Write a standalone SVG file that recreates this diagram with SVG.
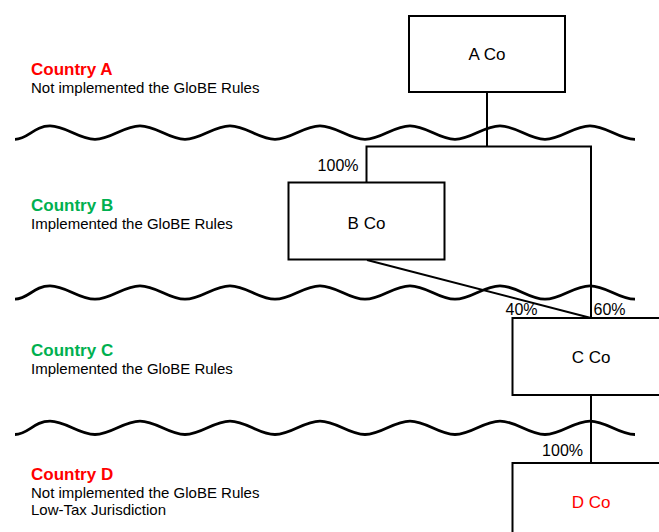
<svg xmlns="http://www.w3.org/2000/svg" width="659" height="532" viewBox="0 0 659 532">
<style>
text{font-family:"Liberation Sans",Arial,sans-serif;fill:#000}
.hd{font-size:17px;font-weight:bold}
.red{fill:#FF0000}
.grn{fill:#00B050}
.sub{font-size:15px}
.box{fill:#fff;stroke:#000;stroke-width:2}
.lbl{font-size:17px;text-anchor:middle}
.pct{font-size:16px}
.wave{fill:none;stroke:#000;stroke-width:2.8}
.con{fill:none;stroke:#000;stroke-width:2}
</style>
<defs>
<path id="wv" d="M15,6.7 C28,6.7 34,-6.7 50,-6.7 s28.6,13.4 45,13.4 s28.6,-13.4 45,-13.4 s28.6,13.4 45,13.4 s28.6,-13.4 45,-13.4 s28.6,13.4 45,13.4 s28.6,-13.4 45,-13.4 s28.6,13.4 45,13.4 s28.6,-13.4 45,-13.4 s28.6,13.4 45,13.4 s28.6,-13.4 45,-13.4 s28.6,13.4 45,13.4 s28.6,-13.4 45,-13.4 s28.6,13.4 45,13.4"/>
</defs>
<g id="borders">
<use href="#wv" class="wave" transform="translate(0,132.6)"/>
<use href="#wv" class="wave" transform="translate(0,292.5)"/>
<use href="#wv" class="wave" transform="translate(0,427.8)"/>
</g>
<g id="country-labels">
<text x="31" y="75" class="hd red">Country A</text>
<text x="31" y="92.5" class="sub">Not implemented the GloBE Rules</text>
<text x="31" y="211" class="hd grn">Country B</text>
<text x="31" y="228.5" class="sub">Implemented the GloBE Rules</text>
<text x="31" y="356" class="hd grn">Country C</text>
<text x="31" y="373.5" class="sub">Implemented the GloBE Rules</text>
<text x="31" y="479.5" class="hd red">Country D</text>
<text x="31" y="497.5" class="sub">Not implemented the GloBE Rules</text>
<text x="31" y="515" class="sub">Low-Tax Jurisdiction</text>
</g>
<g id="connectors">
<polyline class="con" points="487,92 487,146.5"/>
<polyline class="con" points="366.5,182.5 366.5,146.5 591,146.5 591,318"/>
<line class="con" x1="367" y1="260" x2="591" y2="318" stroke-width="1.6"/>
<line class="con" x1="591" y1="395" x2="591" y2="463"/>
<text x="358.5" y="171" class="pct" text-anchor="end">100%</text>
<text x="505.5" y="315" class="pct">40%</text>
<text x="593.5" y="315" class="pct">60%</text>
<text x="583" y="456" class="pct" text-anchor="end">100%</text>
</g>
<g id="node-a">
<rect class="box" x="409" y="16" width="156" height="76"/>
<text x="487" y="60" class="lbl">A Co</text>
</g>
<g id="node-b">
<rect class="box" x="288.5" y="182.5" width="156" height="77"/>
<text x="366.5" y="228.5" class="lbl">B Co</text>
</g>
<g id="node-c">
<rect class="box" x="512.5" y="318" width="158" height="77"/>
<text x="591" y="363" class="lbl">C Co</text>
</g>
<g id="node-d">
<rect class="box" x="512.5" y="463" width="158" height="80"/>
<text x="591" y="507.5" class="lbl red">D Co</text>
</g>
</svg>
